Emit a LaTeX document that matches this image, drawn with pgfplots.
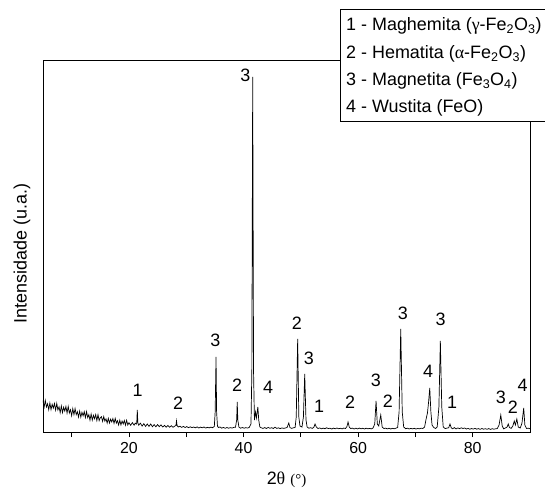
\documentclass[border=0pt]{standalone}
\usepackage{fontspec}
\setmainfont{Liberation Sans}
\newfontfamily\grk{Liberation Serif}
\usepackage{pgfplots}
\pgfplotsset{compat=1.18}
\begin{document}
\begin{tikzpicture}[x=1bp,y=1bp]
\useasboundingbox (-43,-57) rectangle (502,432);
\begin{axis}[
  at={(0,0)}, anchor=south west,
  scale only axis, width=487bp, height=372bp,
  xmin=5, xmax=90, ymin=0, ymax=372,
  axis line style={line width=0.9bp},
  xtick={20,40,60,80}, minor xtick={10,30,50,70},
  tick align=outside, xtick pos=bottom, ytick=\empty,
  major tick length=5bp, minor tick length=5bp,
  tick style={black, line width=0.8bp},
  ticklabel style={font=\fontsize{16}{18}\selectfont},
  xticklabel style={yshift=-2bp},
  /pgf/number format/assume math mode=true,
  xlabel={2{\grk θ} {\grk\fontsize{15}{17}\selectfont(°)}},
  ylabel={Intensidade (u.a.)},
  label style={font=\fontsize{18}{20}\selectfont},
  xlabel style={at={(axis description cs:0.5,-0.129)}, anchor=center},
  ylabel style={at={(axis description cs:-0.043,0.48)}, anchor=center},
]
\addplot[black, line width=0.7bp] coordinates {
(5.0,31.5)(5.2,24.9)(5.4,31.6)(5.6,25.0)(5.8,28.2)(6.0,22.3)(6.2,29.0)(6.4,22.4)(6.6,27.7)(6.8,23.9)
(7.0,28.5)(7.2,21.9)(7.4,28.6)(7.6,22.0)(7.8,25.2)(8.0,19.3)(8.2,26.0)(8.4,19.4)(8.6,24.7)(8.8,20.9)
(9.0,25.5)(9.2,18.9)(9.4,25.6)(9.6,19.0)(9.8,22.2)(10.0,16.3)(10.2,23.4)(10.4,17.4)(10.6,23.4)(10.8,17.4)
(11.0,20.3)(11.2,14.9)(11.4,20.9)(11.6,14.9)(11.8,19.7)(12.0,16.2)(12.2,20.4)(12.4,14.4)(12.6,20.4)(12.8,14.4)
(13.0,17.3)(13.2,11.9)(13.4,17.9)(13.6,11.9)(13.8,16.7)(14.0,13.2)(14.2,17.4)(14.4,11.4)(14.6,17.4)(14.8,11.4)
(15.0,14.3)(15.2,15.3)(15.4,10.6)(15.6,15.4)(15.8,10.8)(16.0,13.1)(16.2,8.9)(16.4,13.7)(16.6,9.0)(16.8,12.8)
(17.0,10.1)(17.2,13.4)(17.4,8.7)(17.6,13.6)(17.8,8.9)(18.0,11.2)(18.2,7.0)(18.4,11.8)(18.6,7.1)(18.8,10.9)
(19.0,8.2)(19.2,11.5)(19.4,6.9)(19.6,11.7)(19.8,7.0)(20.0,9.3)(20.3,6.7)(20.6,9.4)(20.9,6.8)(21.1,8.9)
(21.3,7.9)(21.36,9)(21.42,17)(21.46,22)(21.5,16)(21.56,9)(21.7,6.8)(22.0,8.8)(22.3,5.9)(22.6,8.3)
(22.9,5.6)(23.2,8.0)(23.5,5.6)(23.8,8.0)(24.1,5.3)(24.4,7.4)(24.7,5.2)(25.0,7.4)(25.3,5.3)(25.6,7.1)
(25.9,5.0)(26.2,6.6)(26.5,4.8)(26.8,6.6)(27.1,4.8)(27.4,6.3)(27.7,4.7)(28.0,5.9)(28.2,6.5)(28.3,11)
(28.4,6.5)(28.6,5.0)(28.9,5.8)(29.2,4.6)(29.5,5.6)(29.8,4.5)(30.1,5.4)(30.4,4.3)(30.7,5.2)(31.0,4.4)
(31.3,5.0)(31.6,4.2)(31.9,5.1)(32.2,4.0)(32.5,4.9)(32.8,4.2)(33.1,5.0)(33.4,3.9)(33.7,4.7)(34.0,4.1)
(34.3,4.9)(34.6,4.3)(34.9,5.5)(35.05,20)(35.2,75)(35.3,20)(35.45,6)(35.6,4.5)(35.9,5.0)(36.2,3.8)
(36.5,4.6)(36.8,3.7)(37.1,4.5)(37.4,3.8)(37.7,4.4)(38.0,3.9)(38.3,4.6)(38.6,4.8)(38.8,12)(38.9,30)
(39.0,12)(39.2,4.8)(39.5,3.8)(39.8,4.5)(40.1,3.8)(40.4,4.4)(40.7,3.9)(41.0,4.6)(41.3,8)(41.45,60)
(41.6,355)(41.75,60)(41.9,12)(42.1,20)(42.25,14)(42.5,25)(42.65,12)(42.85,5)(43.1,4.2)(43.4,3.6)
(43.7,4.4)(44.0,3.5)(44.3,4.6)(44.6,3.7)(44.9,4.3)(45.2,3.5)(45.5,4.8)(45.8,3.6)(46.1,4.2)(46.4,3.4)
(46.7,4.1)(47.0,3.6)(47.3,4.0)(47.6,4.5)(47.9,9)(48.1,4.5)(48.4,3.6)(48.7,4.2)(49.0,4.5)(49.2,15)
(49.45,93)(49.65,15)(49.85,6)(50.2,5)(50.45,15)(50.68,58)(50.9,12)(51.1,5)(51.4,3.8)(51.7,4.3)
(52.0,3.6)(52.3,5)(52.48,8)(52.7,5)(53.0,3.5)(53.3,4.1)(53.6,3.2)(53.9,3.9)(54.2,3.3)(54.5,4.2)
(54.8,3.4)(55.1,3.8)(55.4,3.0)(55.7,3.9)(56.0,3.2)(56.3,4.0)(56.6,3.3)(56.9,3.7)(57.2,3.1)(57.5,3.9)
(57.8,3.5)(58.05,5.5)(58.24,10)(58.45,5)(58.7,3.4)(59.0,3.9)(59.3,3.0)(59.6,3.8)(59.9,3.1)(60.2,3.9)
(60.5,3.2)(60.8,3.7)(61.1,3.0)(61.4,3.8)(61.7,3.2)(62.0,3.6)(62.3,3.1)(62.6,4)(62.9,8)(63.13,31)
(63.35,8)(63.6,6)(63.95,17)(64.2,5)(64.5,3.4)(64.8,3.9)(65.1,3.1)(65.4,3.8)(65.7,3.0)(66.0,3.7)
(66.3,3.2)(66.6,3.8)(66.9,4.5)(67.15,20)(67.44,103)(67.7,20)(67.95,5)(68.3,3.3)(68.6,3.8)(68.9,3.0)
(69.2,3.6)(69.5,3.1)(69.8,3.7)(70.1,3.0)(70.4,3.5)(70.7,3.2)(71.0,3.8)(71.3,3.5)(71.6,5)(71.9,14)
(72.1,19)(72.3,30)(72.5,44)(72.7,20)(72.9,7)(73.2,4.5)(73.5,3.5)(73.8,5)(74.1,25)(74.35,91)
(74.6,25)(74.85,5)(75.2,3.4)(75.5,3.9)(75.8,4.2)(76.04,8)(76.25,4.2)(76.5,3.2)(76.8,4.4)(77.1,3.1)
(77.4,4.1)(77.7,3.3)(78.0,4.2)(78.3,3.5)(78.6,4.0)(78.9,3.0)(79.2,3.6)(79.5,2.8)(79.8,3.5)(80.1,2.9)
(80.4,3.6)(80.7,2.8)(81.0,3.4)(81.3,2.7)(81.6,3.5)(81.9,2.8)(82.2,3.3)(82.5,2.7)(82.8,3.4)(83.1,2.6)
(83.4,3.3)(83.7,2.8)(84.0,3.2)(84.3,3.5)(84.6,7)(84.9,17)(85.15,6)(85.4,3.2)(85.7,4)(86.0,5)
(86.2,8)(86.4,4.5)(86.7,3.6)(87.0,6)(87.25,11)(87.45,7)(87.7,13)(87.95,5)(88.3,4)(88.6,9)
(88.9,24)(89.1,7)(89.4,3.5)(89.7,3.8)(90.0,3.2)
};
\begin{scope}[font=\fontsize{18}{20}\selectfont]
\node at (axis cs:21.5,42) {1};
\node at (axis cs:28.6,29) {2};
\node at (axis cs:35.1,92) {3};
\node at (axis cs:38.9,47) {2};
\node at (axis cs:40.3,357) {3};
\node at (axis cs:44.3,45) {4};
\node at (axis cs:49.3,109) {2};
\node at (axis cs:51.4,74) {3};
\node at (axis cs:53.2,26) {1};
\node at (axis cs:58.6,30) {2};
\node at (axis cs:63.1,52) {3};
\node at (axis cs:65.2,31) {2};
\node at (axis cs:67.8,119) {3};
\node at (axis cs:72.2,61) {4};
\node at (axis cs:74.4,113) {3};
\node at (axis cs:76.4,30) {1};
\node at (axis cs:84.9,35) {3};
\node at (axis cs:87.0,25) {2};
\node at (axis cs:88.7,47) {4};
\end{scope}
\end{axis}
\draw[fill=white, line width=0.9bp] (297,311) rectangle (530,423);
\begin{scope}[font=\fontsize{18}{20}\selectfont]
\node[anchor=base west, inner sep=0pt] at (303,401) {1 - Maghemita ({\grk γ}-Fe\textsubscript{2}O\textsubscript{3})};
\node[anchor=base west, inner sep=0pt] at (303,373.5) {2 - Hematita ({\grk α}-Fe\textsubscript{2}O\textsubscript{3})};
\node[anchor=base west, inner sep=0pt] at (303,346) {3 - Magnetita (Fe\textsubscript{3}O\textsubscript{4})};
\node[anchor=base west, inner sep=0pt] at (303,319) {4 - Wustita (FeO)};
\end{scope}
\end{tikzpicture}
\end{document}
